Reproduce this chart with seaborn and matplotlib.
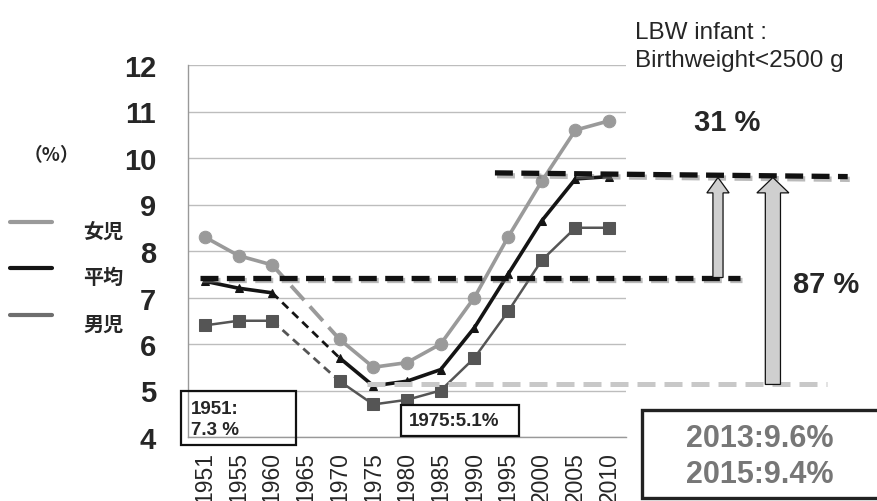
import numpy as np
import pandas as pd
import seaborn as sns
import matplotlib.pyplot as plt
import matplotlib.patheffects as pe
from matplotlib.patches import Rectangle, FancyArrow
from matplotlib.lines import Line2D

# data (%, low birthweight infants)
years = ['1951', '1955', '1960', '1965', '1970', '1975', '1980',
         '1985', '1990', '1995', '2000', '2005', '2010']
girls = [8.3, 7.9, 7.7, np.nan, 6.1, 5.5, 5.6, 6.0, 7.0, 8.3, 9.5, 10.6, 10.8]
average = [7.35, 7.2, 7.1, np.nan, 5.7, 5.1, 5.2, 5.45, 6.35, 7.5, 8.65, 9.55, 9.6]
boys = [6.4, 6.5, 6.5, np.nan, 5.2, 4.7, 4.8, 5.0, 5.7, 6.7, 7.8, 8.5, 8.5]

level_1951 = 7.43
level_1975 = 5.13
level_2013 = (9.68, 9.60)

sns.set_style('white')
plt.rcParams['font.family'] = ['Liberation Sans', 'Noto Sans CJK JP', 'DejaVu Sans']

W, H = 878, 502
fig = plt.figure(figsize=(W / 100, H / 100), dpi=100)
ax = fig.add_axes([188 / W, 64 / H, 438 / W, 372 / H])


def fx(x):
    return x / W


def fy(y):
    return 1 - y / H


df = pd.DataFrame({'year': years, 'pos': range(len(years)),
                   '女児': girls, '平均': average, '男児': boys})
long = df.melt(id_vars=['year', 'pos'], var_name='series', value_name='rate')
long['segment'] = np.where(long['pos'] < 3, 'early', 'late')

styles = {
    '女児': dict(color='#9a9a9a', marker='o', ms=9, lw=2.6, dash=(0, (5, 2.2)), dlw=2.8),
    '男児': dict(color='#555555', marker='s', ms=8.5, lw=1.8, dash=(0, (3, 2)), dlw=2.0),
    '平均': dict(color='#141414', marker='^', ms=6, lw=2.6, dash=(0, (3, 2)), dlw=2.0),
}

for name, st in styles.items():
    sub = long[long['series'] == name].dropna()
    sns.lineplot(data=sub, x='pos', y='rate', units='segment', estimator=None,
                 sort=False, color=st['color'], marker=st['marker'],
                 markersize=st['ms'], markeredgecolor=st['color'],
                 linewidth=st['lw'], ax=ax, legend=False, zorder=3)
    gap = sub[sub['year'].isin(['1960', '1970'])]
    sns.lineplot(data=gap, x='pos', y='rate', estimator=None, sort=False,
                 color=st['color'], linestyle=st['dash'], linewidth=st['dlw'],
                 ax=ax, legend=False, zorder=2)

# reference levels
shadow = [pe.SimpleLineShadow(offset=(1.5, -2), shadow_color='#777777', alpha=0.5), pe.Normal()]
ax.plot([-0.14, 15.88], [level_1951, level_1951], color='#111111', lw=3.8,
        linestyle=(0, (3.4, 1.6)), clip_on=False, zorder=4, path_effects=shadow)
ax.plot([8.61, 19.08], list(level_2013), color='#111111', lw=3.8,
        linestyle=(0, (3.4, 1.6)), clip_on=False, zorder=4, path_effects=shadow)
ax.plot([4.81, 18.46], [level_1975, level_1975], color='#c8c8c8', lw=3.6,
        linestyle=(0, (3.6, 1.8)), clip_on=False, zorder=4)

# arrows
ax.add_patch(FancyArrow(15.23, level_1951, 0, 9.58 - level_1951, width=0.30,
                        head_width=0.66, head_length=0.33, length_includes_head=True,
                        fc='#cfcfcf', ec='#111111', lw=0.9, clip_on=False, zorder=5))
ax.add_patch(FancyArrow(16.86, level_1975, 0, 9.58 - level_1975, width=0.45,
                        head_width=0.95, head_length=0.33, length_includes_head=True,
                        fc='#cfcfcf', ec='#111111', lw=0.9, clip_on=False, zorder=5))

# axes styling
ax.set_xlim(-0.5, 12.5)
ax.set_ylim(4, 12)
ax.set_xlabel('')
ax.set_ylabel('')
ax.set_yticks(range(4, 13))
ax.set_yticklabels([str(v) for v in range(4, 13)], fontsize=21, fontweight='bold')
ax.set_xticks(np.arange(-0.5, 13, 1))
ax.set_xticklabels([])
ax.set_xticks(range(len(years)), labels=years, minor=True)
ax.tick_params(axis='x', which='minor', length=0, rotation=90, labelsize=16.5, pad=10)
ax.tick_params(axis='x', which='major', length=7, color='#999999', width=1)
ax.tick_params(axis='y', length=8, color='#999999', width=1, pad=15)
ax.yaxis.grid(True, color='#bdbdbd', lw=1)
ax.xaxis.grid(False)
for s in ['top', 'right']:
    ax.spines[s].set_visible(False)
for s in ['left', 'bottom']:
    ax.spines[s].set_color('#999999')
    ax.spines[s].set_linewidth(1)

# manual legend on the left
for y, name in [(223, '女児'), (269, '平均'), (316, '男児')]:
    fig.add_artist(Line2D([fx(10), fx(52)], [fy(y), fy(y)], transform=fig.transFigure,
                          color=styles[name]['color'] if name != '男児' else '#6e6e6e', lw=3))
    fig.text(fx(83), fy(y + 8), name, fontsize=14.5, fontweight='bold',
             family=['Noto Sans CJK JP', 'DejaVu Sans'], va='center', ha='left')
fig.text(fx(51), fy(156), '（%）', fontsize=13.5, fontweight='bold',
         family=['Noto Sans CJK JP', 'DejaVu Sans'], va='center', ha='center')

# notes
fig.text(fx(635), fy(47), 'LBW infant :\nBirthweight<2500 g', fontsize=17.5,
         va='center', ha='left', linespacing=1.35)
fig.text(fx(727), fy(123), '31 %', fontsize=21, fontweight='bold',
         va='center', ha='center')
fig.text(fx(826), fy(285), '87 %', fontsize=21, fontweight='bold',
         va='center', ha='center')

fig.add_artist(Rectangle((fx(181), fy(446)), 115 / W, 54 / H, transform=fig.transFigure,
                         fill=False, ec='#111111', lw=1.6, zorder=6))
fig.text(fx(191), fy(420), '1951:\n7.3 %', fontsize=13.5, fontweight='bold',
         va='center', ha='left', linespacing=1.25, zorder=6)

fig.add_artist(Rectangle((fx(401), fy(437)), 118 / W, 31 / H, transform=fig.transFigure,
                         fc='white', ec='#111111', lw=1.6, zorder=6))
fig.text(fx(454), fy(422), '1975:5.1%', fontsize=13.5, fontweight='bold',
         va='center', ha='center', zorder=7)

fig.add_artist(Rectangle((fx(642), fy(499)), 240 / W, 88 / H, transform=fig.transFigure,
                         fc='white', ec='#222222', lw=2.4, zorder=6))
fig.text(fx(760), fy(457), '2013:9.6%\n2015:9.4%', fontsize=22, fontweight='bold',
         color='#777777', va='center', ha='center', linespacing=1.25, zorder=7)

fig.savefig('out.png', dpi=100)
